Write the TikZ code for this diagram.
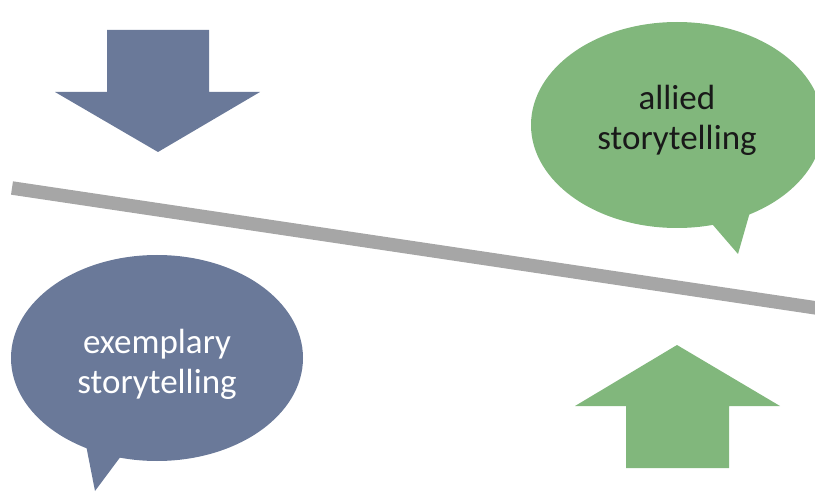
\documentclass[tikz,border=0pt]{standalone}
\usepackage{fontspec}
\setmainfont{Carlito}
\usetikzlibrary{shapes.geometric}
\definecolor{slate}{HTML}{6A7999}
\definecolor{leaf}{HTML}{81B77C}
\definecolor{rail}{HTML}{A6A6A6}
\begin{document}
\begin{tikzpicture}[x=1pt,y=-1pt,
  bubble/.style={ellipse,inner sep=0pt,minimum width=292pt,minimum height=206pt},
  bubbletext/.style={align=center,inner sep=0pt,font=\fontsize{35}{40}\selectfont},
]
\useasboundingbox (0,0) rectangle (815,492);
\clip (0,0) rectangle (815,492);
% gray rail
\coordinate (r1) at (12,188);
\coordinate (r2) at (830,310);
\draw[rail,line width=13.5pt] (r1) -- (r2);
% blue down arrow
\fill[slate] (107,30) -- (209,30) -- (209,92) -- (260,92) -- (158,152) -- (55,92) -- (107,92) -- cycle;
% green up arrow
\fill[leaf] (626,468) -- (729,468) -- (729,406) -- (780,406) -- (677,345) -- (575,406) -- (626,406) -- cycle;
% green bubble
\fill[leaf] (700,210) -- (752,205) -- (738,254) -- cycle;
\node[bubble,fill=leaf,label={[bubbletext,text=black!90,yshift=5pt]center:allied\\storytelling}] (allied) at (677,125) {};
% blue bubble
\fill[slate] (85,440) -- (127,448) -- (95,491) -- cycle;
\node[bubble,fill=slate,label={[bubbletext,text=white,yshift=-6pt]center:exemplary\\storytelling}] (exemplary) at (157,358) {};
\end{tikzpicture}
\end{document}
